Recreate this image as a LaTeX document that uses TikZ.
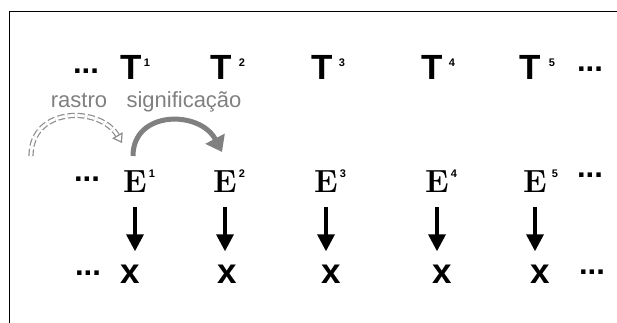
\documentclass[tikz,border=0pt]{standalone}
\usepackage{fontspec}
\newfontfamily\arialf{Liberation Sans}
\usetikzlibrary{arrows.meta}
\begin{document}
\begin{tikzpicture}[x=1pt,y=-1pt,
  tt/.style={font=\arialf\bfseries\fontsize{35}{40}\selectfont, inner sep=0pt, anchor=base},
  ee/.style={font=\bfseries\fontsize{32}{36}\selectfont, inner sep=0pt, anchor=base},
  xx/.style={font=\arialf\bfseries\fontsize{35}{40}\selectfont, inner sep=0pt, anchor=base},
  supn/.style={font=\arialf\bfseries\fontsize{11}{12}\selectfont, inner sep=0pt},
  dd/.style={font=\arialf\bfseries\fontsize{31}{36}\selectfont, inner sep=0pt, anchor=base},
  lbl/.style={font=\arialf\fontsize{22}{24}\selectfont, text=black!50, inner sep=0pt, anchor=base},
  down/.style={-{Triangle[width=17pt,length=17pt]}, line width=3.4pt, shorten <=15pt, shorten >=13pt},
  grayarc/.style={-{Triangle[width=21pt,length=15pt]}, line width=5pt, draw=black!50},
  trace/.style={-{Triangle[open,width=12pt,length=9pt]}, draw=black!45, line width=1.2pt, double=white, double distance=2.8pt, dash pattern=on 7pt off 3pt}
]
\useasboundingbox (0,0) rectangle (617,323);
\draw[line width=1pt] (617,12) -- (9,12) -- (9,323);

% T row
\node[dd] (tdl) at (86,74) {...};
\node[tt] (t1) at (131,80) {T};
\node[tt] (t2) at (221,80) {T};
\node[tt] (t3) at (322,80) {T};
\node[tt] (t4) at (432,80) {T};
\node[tt] (t5) at (530,80) {T};
\node[dd] (tdr) at (590,72) {...};
\node[supn] (ts1) at (147,63) {1};
\node[supn] (ts2) at (242,63) {2};
\node[supn] (ts3) at (342,63) {3};
\node[supn] (ts4) at (452,63) {4};
\node[supn] (ts5) at (552,63) {5};

% labels
\node[lbl] (rastro) at (79,108) {rastro};
\node[lbl] (signif) at (184,108) {significação};

% E row
\node[dd] (edl) at (87,181) {...};
\node[ee] (e1) at (135,192) {E};
\node[ee] (e2) at (225,192) {E};
\node[ee] (e3) at (326,192) {E};
\node[ee] (e4) at (437,192) {E};
\node[ee] (e5) at (535,192) {E};
\node[dd] (edr) at (590,177) {...};
\node[supn] (es1) at (152,174) {1};
\node[supn] (es2) at (242,174) {2};
\node[supn] (es3) at (343,174) {3};
\node[supn] (es4) at (454,174) {4};
\node[supn] (es5) at (555,174) {5};

% x row
\node[dd] (xdl) at (88,275) {...};
\node[xx] (x1) at (130,283) {x};
\node[xx] (x2) at (227,283) {x};
\node[xx] (x3) at (331,283) {x};
\node[xx] (x4) at (442,283) {x};
\node[xx] (x5) at (540,283) {x};
\node[dd] (xdr) at (592,274) {...};

% down arrows
\foreach \i in {1,...,5}{
  \draw[down] (e\i.south) -- (e\i.south |- x\i.north);
}

% curved arrows
\coordinate (r0) at (31,156);
\coordinate (r1) at (122,143);
\coordinate (g0) at (133,156);
\coordinate (g1) at (222,152);
\draw[trace] (r0) .. controls (31,106) and (100,106) .. (r1);
\draw[grayarc] (g0) .. controls (133,110) and (200,110) .. (g1);
\end{tikzpicture}
\end{document}
